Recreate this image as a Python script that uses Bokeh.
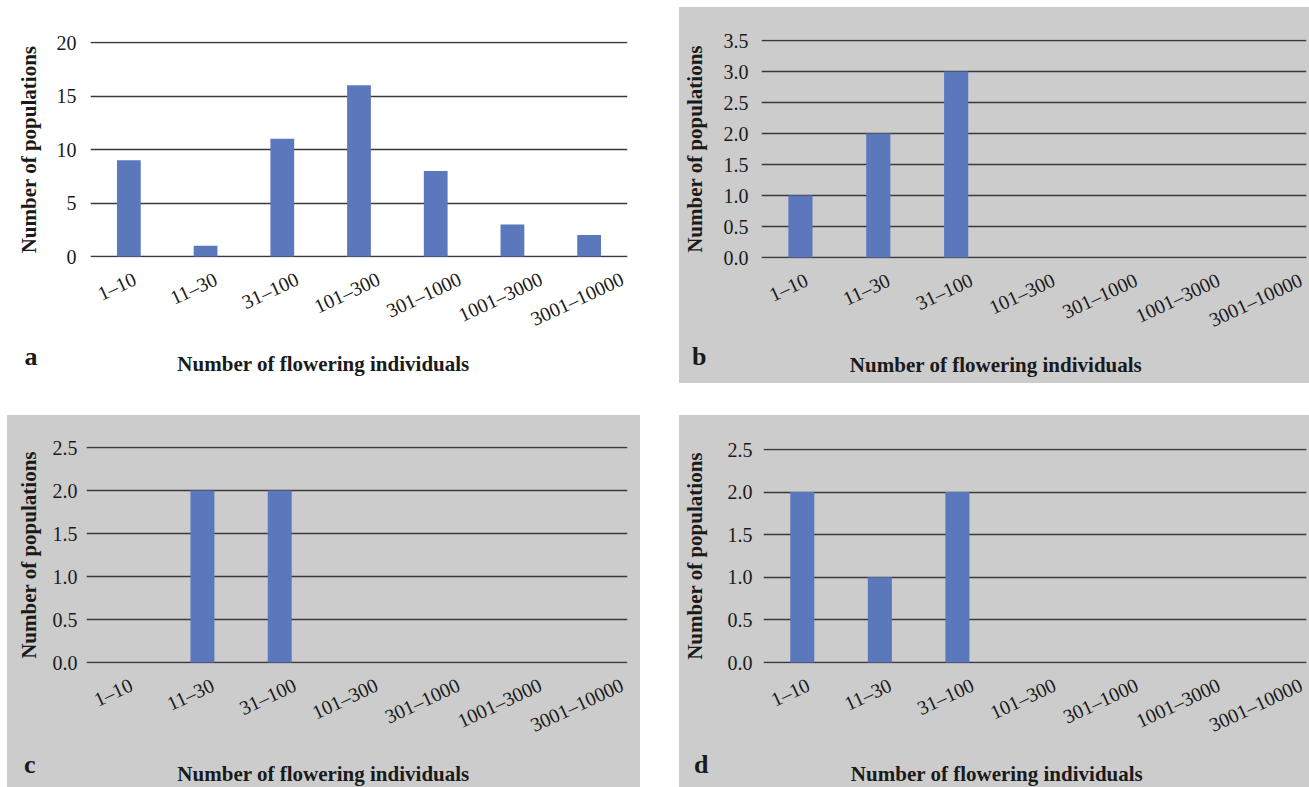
from bokeh.plotting import figure
from bokeh.models import (ColumnDataSource, LabelSet, Label, FixedTicker,
                          NumeralTickFormatter, Spacer, FactorRange, Range1d)
from bokeh.layouts import column, row
from bokeh.embed import file_html
from bokeh.resources import INLINE

# ---------------- data ----------------
categories = ["1–10", "11–30", "31–100", "101–300", "301–1000", "1001–3000", "3001–10000"]
values_a = [9, 1, 11, 16, 8, 3, 2]
values_b = [1, 2, 3, 0, 0, 0, 0]
values_c = [0, 2, 2, 0, 0, 0, 0]
values_d = [2, 1, 2, 0, 0, 0, 0]
y_ticks_a = [0, 5, 10, 15, 20]
y_ticks_b = [0.0, 0.5, 1.0, 1.5, 2.0, 2.5, 3.0, 3.5]
y_ticks_cd = [0.0, 0.5, 1.0, 1.5, 2.0, 2.5]
panel_letters = ["a", "b", "c", "d"]
x_title = "Number of flowering individuals"
y_title = "Number of populations"

FONT = "Liberation Serif"
BAR = "#5A78BB"
GRAY = "#CCCCCC"
GRID = "#3A3A3A"
INK = "#1a1a1a"
BOTTOM = 11  # border below the zero line in the main plot

# rotated category labels: top-aligned like the original, so longer labels sit lower
label_dx = [-12 for t in categories]
label_dy = [-(21.3 + 2.11 * len(t)) for t in categories]


def panel(vals, ticks, fmt, bg, fig_w, total_h, left, top, frame_w, frame_px,
          letter, letter_y, letter_standoff, title_dx, title_y, mls, als):
    ymax = ticks[-1]
    pad = ymax / frame_px
    frame_h = frame_px + 2
    right = fig_w - left - frame_w
    main_h = top + frame_h + BOTTOM
    sub_h = total_h - main_h
    gap = 1 + BOTTOM
    xr = FactorRange(*categories, range_padding=0)

    # ---- main plot area ----
    p = figure(width=fig_w, height=main_h, output_backend="svg", toolbar_location=None,
               x_range=xr, y_range=Range1d(-pad, ymax + pad), x_axis_location=None,
               min_border_left=left, min_border_top=top, min_border_right=right,
               min_border_bottom=BOTTOM)
    p.background_fill_color = bg
    p.border_fill_color = None
    p.outline_line_color = None
    p.vbar(x=categories, top=vals, width=0.31, fill_color=BAR, line_color=None)

    p.xgrid.visible = False
    p.ygrid.ticker = FixedTicker(ticks=ticks)
    p.ygrid.grid_line_color = GRID
    p.ygrid.grid_line_width = 1.4

    ya = p.yaxis[0]
    ya.ticker = FixedTicker(ticks=ticks)
    ya.formatter = NumeralTickFormatter(format=fmt)
    ya.axis_line_color = None
    ya.major_tick_line_color = None
    ya.minor_tick_line_color = None
    ya.major_tick_out = 0
    ya.major_tick_in = 0
    ya.minor_tick_out = 0
    ya.major_label_text_font = FONT
    ya.major_label_text_font_size = "20px"
    ya.major_label_text_color = INK
    ya.major_label_standoff = mls
    ya.axis_label = y_title
    ya.axis_label_text_font = FONT
    ya.axis_label_text_font_size = "21px"
    ya.axis_label_text_font_style = "bold"
    ya.axis_label_text_color = INK
    ya.axis_label_standoff = als

    # ---- strip below: category labels, x title, panel letter ----
    # y in pixels below the zero line of the main plot
    s = figure(width=fig_w, height=sub_h, output_backend="svg", toolbar_location=None,
               x_range=xr, y_range=Range1d(-(gap + sub_h), -gap), x_axis_location=None,
               min_border_left=left, min_border_top=0, min_border_right=right,
               min_border_bottom=0)
    s.background_fill_color = bg
    s.border_fill_color = None
    s.outline_line_color = None
    s.grid.visible = False

    sa = s.yaxis[0]
    sa.ticker = FixedTicker(ticks=[letter_y])
    sa.major_label_overrides = {letter_y: letter}
    sa.axis_line_color = None
    sa.major_tick_line_color = None
    sa.minor_tick_line_color = None
    sa.major_tick_out = 0
    sa.major_tick_in = 0
    sa.minor_tick_out = 0
    sa.major_label_standoff = letter_standoff
    sa.major_label_text_font = FONT
    sa.major_label_text_font_size = "26px"
    sa.major_label_text_font_style = "bold"
    sa.major_label_text_color = INK

    src = ColumnDataSource(dict(x=categories, y=[0] * len(categories), t=categories,
                                dx=label_dx, dy=label_dy))
    s.add_layout(LabelSet(x="x", y="y", text="t", source=src, angle=0.436,
                          x_offset="dx", y_offset="dy", text_align="center",
                          text_baseline="middle", text_font=FONT,
                          text_font_size="20px", text_color=INK))
    s.add_layout(Label(x=len(categories) / 2, y=title_y, text=x_title, x_offset=title_dx,
                       text_align="center", text_baseline="alphabetic",
                       text_font=FONT, text_font_size="21px", text_font_style="bold",
                       text_color=INK))
    return column(p, s, spacing=0, styles={"background-color": bg})


pa = panel(values_a, y_ticks_a, "0", "white", 633, 376, 83, 34, 537, 214,
           panel_letters[0], -100, 53, -35.5, -107, 14, 13)
pb = panel(values_b, y_ticks_b, "0.0", GRAY, 630, 376, 81, 32, 546, 217,
           panel_letters[1], -99, 55, -38, -107, 13, 14)
pc = panel(values_c, y_ticks_cd, "0.0", GRAY, 633, 372, 79, 31, 541, 215,
           panel_letters[2], -102, 51, -33.5, -111, 9, 9)
pd = panel(values_d, y_ticks_cd, "0.0", GRAY, 630, 372, 81, 33, 546, 213,
           panel_letters[3], -102, 55, -38, -111, 11, 18)

layout = column(
    Spacer(width=1309, height=7),
    row(Spacer(width=7, height=376), pa, Spacer(width=39, height=376), pb),
    Spacer(width=1309, height=32),
    row(Spacer(width=7, height=372), pc, Spacer(width=39, height=372), pd),
)

open("out.html", "w").write(file_html(layout, INLINE))
